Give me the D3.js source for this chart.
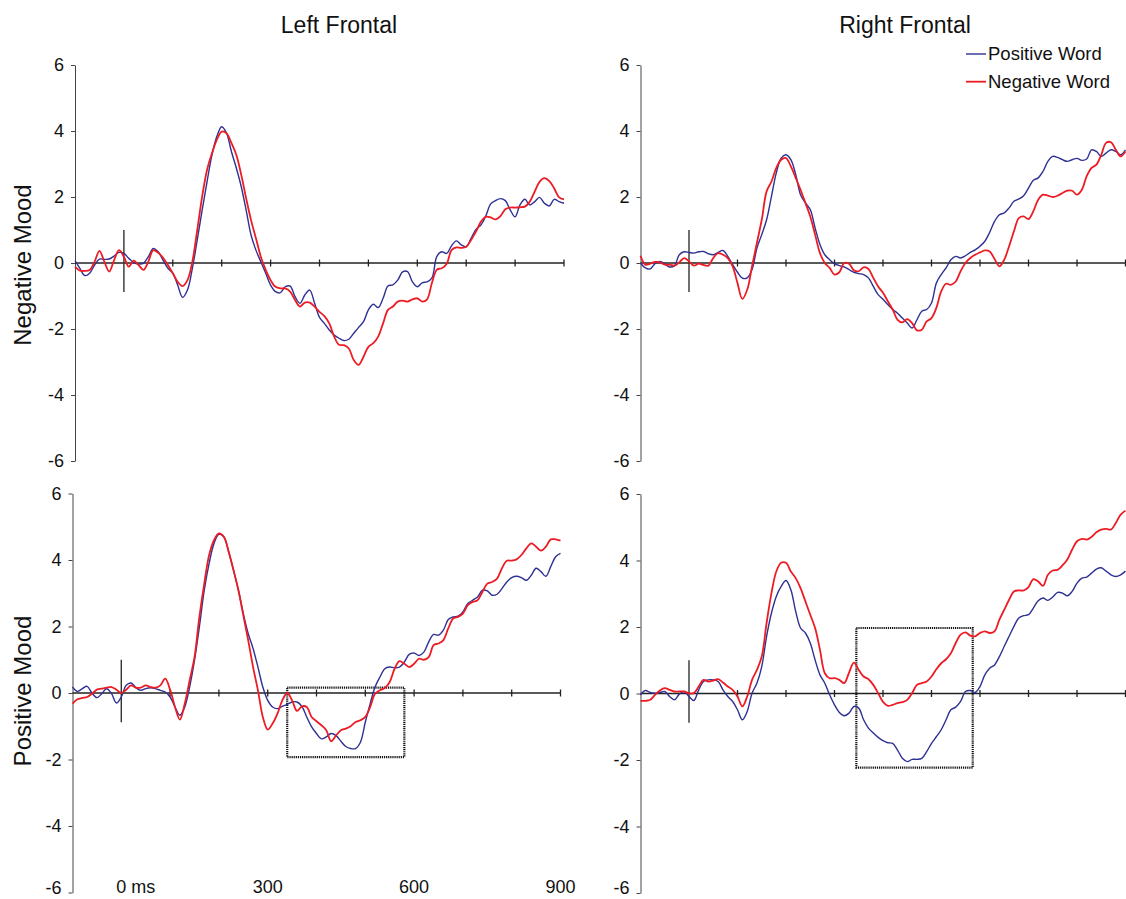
<!DOCTYPE html>
<html>
<head>
<meta charset="utf-8">
<script src="https://cdn.jsdelivr.net/npm/d3@7"></script>
<style>
  body { margin: 0; background: #fff; }
  svg { display: block; }
</style>
</head>
<body>
<svg id="chart"></svg>
<script>
// sample times (ms)
const times = [-100,-90,-80,-70,-60,-50,-40,-30,-20,-10,
  0,10,20,30,40,50,60,70,80,90,100,110,120,130,140,150,160,170,180,190,
  200,210,220,230,240,250,260,270,280,290,300,310,320,330,340,350,360,370,380,390,
  400,410,420,430,440,450,460,470,480,490,500,510,520,530,540,550,560,570,580,590,
  600,610,620,630,640,650,660,670,680,690,700,710,720,730,740,750,760,770,780,790,
  800,810,820,830,840,850,860,870,880,890,900];

// Negative mood, left frontal
const negLeftPosWord = [0.07,-0.16,-0.38,-0.31,-0.06,0.12,0.11,0.12,0.21,0.32,
  0.29,0.14,0.01,-0.03,-0.01,0.19,0.44,0.34,0.09,-0.16,-0.31,-0.67,-1.04,-0.82,-0.16,0.70,1.60,2.46,3.27,3.83,
  4.13,3.93,3.37,2.87,2.31,1.60,0.85,0.39,0.04,-0.31,-0.67,-0.87,-0.90,-0.72,-0.70,-1.02,-1.22,-0.97,-0.82,-1.22,
  -1.65,-1.83,-2.03,-2.18,-2.28,-2.35,-2.31,-2.13,-1.95,-1.78,-1.42,-1.25,-1.35,-1.07,-0.70,-0.66,-0.52,-0.27,-0.26,-0.57,
  -0.72,-0.60,-0.57,-0.45,0.20,0.34,0.29,0.52,0.67,0.55,0.49,0.75,1.02,1.15,1.42,1.79,1.89,1.95,1.89,1.61,
  1.40,1.76,1.93,1.76,1.86,1.99,1.81,1.73,1.93,1.86,1.81];
const negLeftNegWord = [-0.11,-0.23,-0.24,-0.21,0.04,0.37,0.04,-0.26,0.09,0.39,
  0.19,-0.11,0.07,-0.06,-0.21,0.04,0.39,0.31,0.16,-0.06,-0.31,-0.57,-0.70,-0.52,0.04,1.00,2.01,2.82,3.32,3.73,
  3.98,3.93,3.63,3.27,2.67,1.96,1.30,0.75,0.19,-0.21,-0.52,-0.72,-0.77,-0.77,-0.87,-1.12,-1.32,-1.20,-1.20,-1.32,
  -1.48,-1.61,-1.83,-2.23,-2.48,-2.49,-2.59,-2.94,-3.09,-2.84,-2.54,-2.43,-2.23,-1.83,-1.42,-1.32,-1.17,-1.14,-1.17,-1.10,
  -1.07,-1.17,-1.10,-0.60,-0.20,-0.16,-0.03,0.39,0.47,0.46,0.49,0.70,0.95,1.25,1.40,1.38,1.32,1.42,1.63,1.68,
  1.68,1.69,1.71,1.86,2.16,2.46,2.57,2.48,2.26,1.99,1.93];

// Negative mood, right frontal
const negRightPosWord = [0,-0.15,-0.18,-0.02,0.05,-0.02,-0.12,-0.08,0.25,0.34,
  0.32,0.30,0.34,0.35,0.28,0.25,0.32,0.38,0.20,-0.05,-0.28,-0.46,-0.45,-0.20,0.45,0.86,1.31,2.02,2.73,3.18,
  3.28,3.13,2.68,2.07,1.82,1.62,1.06,0.56,0.25,0.10,-0.02,-0.08,-0.12,-0.20,-0.28,-0.32,-0.35,-0.45,-0.71,-0.96,
  -1.10,-1.26,-1.41,-1.52,-1.67,-1.82,-1.97,-1.72,-1.46,-1.41,-1.21,-0.61,-0.35,-0.15,0.10,0.20,0.15,0.22,0.32,0.40,
  0.51,0.66,0.93,1.26,1.46,1.52,1.67,1.87,1.94,2.04,2.27,2.51,2.58,2.78,3.08,3.23,3.20,3.13,3.08,3.13,
  3.17,3.11,3.15,3.43,3.38,3.23,3.33,3.43,3.38,3.28,3.43];
const negRightNegWord = [0.22,-0.05,-0.02,0.03,0.02,-0.05,-0.05,-0.08,0.02,0.15,
  0.05,-0.08,-0.02,-0.06,-0.08,0.15,0.30,0.25,0.15,-0.10,-0.61,-1.09,-0.81,-0.10,0.61,1.31,2.17,2.47,2.88,3.13,
  3.18,2.93,2.58,2.22,1.82,1.41,0.86,0.30,0,-0.15,-0.35,-0.28,0,-0.02,-0.22,-0.25,-0.13,-0.18,-0.45,-0.71,
  -0.90,-1.16,-1.41,-1.72,-1.80,-1.70,-1.82,-2.04,-2.02,-1.77,-1.67,-1.36,-0.86,-0.63,-0.66,-0.56,-0.25,0,0.15,0.25,
  0.32,0.38,0.35,0.12,-0.10,0.10,0.51,0.96,1.36,1.41,1.33,1.57,1.92,2.07,2.04,2.00,2.04,2.12,2.19,2.19,
  2.07,2.22,2.63,2.88,2.98,3.28,3.64,3.66,3.43,3.23,3.38];

// Positive mood, left frontal
const posLeftPosWord = [0.18,0.05,0.13,0.20,0,-0.14,-0.02,0.13,-0.02,-0.30,
  -0.12,0.23,0.30,0.16,0.08,0.13,0.16,0.13,0.08,0.03,-0.12,-0.42,-0.67,-0.42,0.18,0.98,1.99,3.09,3.90,4.50,
  4.77,4.70,4.25,3.69,3.09,2.39,1.79,1.34,0.78,0.18,-0.22,-0.42,-0.47,-0.40,-0.34,-0.27,-0.27,-0.40,-0.72,-1.02,
  -1.22,-1.38,-1.32,-1.22,-1.28,-1.45,-1.61,-1.67,-1.67,-1.48,-0.88,-0.32,0.18,0.48,0.73,0.78,0.76,0.78,0.93,1.16,
  1.20,1.13,1.23,1.54,1.76,1.74,1.89,2.21,2.29,2.31,2.44,2.69,2.79,2.89,3.09,3.07,2.94,2.97,3.14,3.34,
  3.47,3.51,3.47,3.39,3.54,3.75,3.65,3.51,3.80,4.10,4.20];
const posLeftNegWord = [-0.32,-0.19,-0.15,-0.12,-0.02,0.10,0.13,0.16,0.18,0.10,
  0,0.10,0.23,0.16,0.16,0.23,0.18,0.16,0.23,0.43,0.10,-0.42,-0.80,-0.32,0.38,1.08,2.29,3.29,4.15,4.60,
  4.80,4.70,4.25,3.69,3.09,2.34,1.59,0.78,0.08,-0.72,-1.10,-0.92,-0.62,-0.22,0,-0.22,-0.54,-0.40,-0.42,-0.72,
  -0.85,-0.97,-1.12,-1.45,-1.28,-1.12,-1.07,-1.00,-0.87,-0.82,-0.72,-0.42,-0.02,0.08,0.15,0.33,0.73,0.96,0.88,0.78,
  0.88,1.03,1.00,1.08,1.44,1.49,1.59,1.94,2.24,2.29,2.39,2.64,2.74,2.79,3.04,3.29,3.34,3.44,3.75,3.98,
  3.98,4.02,4.15,4.35,4.50,4.40,4.28,4.40,4.62,4.62,4.58];

// Positive mood, right frontal
const posRightPosWord = [-0.04,0.09,0.03,0.01,0.03,0.06,-0.09,-0.19,-0.02,0.06,
  -0.09,-0.21,0.11,0.36,0.41,0.41,0.36,0.11,-0.09,-0.24,-0.49,-0.79,-0.54,0.01,0.31,0.81,1.72,2.42,2.92,3.22,
  3.40,3.12,2.47,1.97,1.82,1.52,1.01,0.56,0.31,-0.04,-0.34,-0.57,-0.67,-0.59,-0.39,-0.44,-0.79,-1.04,-1.19,-1.32,
  -1.42,-1.48,-1.50,-1.70,-1.95,-2.05,-1.98,-1.98,-1.95,-1.75,-1.50,-1.30,-1.09,-0.79,-0.49,-0.41,-0.24,0.06,0.09,0.03,
  0.21,0.56,0.76,0.86,1.11,1.42,1.72,2.02,2.27,2.34,2.37,2.57,2.79,2.87,2.80,2.90,3.04,3.02,2.94,3.07,
  3.32,3.47,3.50,3.62,3.74,3.78,3.68,3.57,3.52,3.57,3.68];
const posRightNegWord = [-0.22,-0.22,-0.19,-0.04,0.09,0.16,0.11,0.06,0.06,0.06,
  0.01,0.01,0.21,0.41,0.36,0.39,0.43,0.33,0.21,0.11,-0.09,-0.39,-0.09,0.41,0.71,1.11,2.12,3.02,3.67,3.93,
  3.93,3.67,3.47,3.17,2.77,2.37,1.97,1.32,0.61,0.46,0.46,0.41,0.31,0.63,0.93,0.71,0.51,0.43,0.26,0.01,
  -0.25,-0.37,-0.34,-0.29,-0.26,-0.19,0.01,0.26,0.31,0.36,0.51,0.73,0.91,1.03,1.21,1.52,1.77,1.84,1.74,1.72,
  1.82,1.87,1.82,1.87,2.22,2.52,2.82,3.07,3.10,3.10,3.20,3.44,3.37,3.24,3.57,3.70,3.72,3.85,4.03,4.33,
  4.58,4.65,4.63,4.71,4.85,4.93,4.95,4.93,5.13,5.38,5.50];

const yTicks = [-6, -4, -2, 0, 2, 4, 6];
const xTicks = [100, 200, 300, 400, 500, 600, 700, 800, 900];
const timeLabelValues = [0, 300, 600, 900];
const timeLabelText = ["0 ms", "300", "600", "900"];
const seriesNames = ["Positive Word", "Negative Word"];
const columnTitles = ["Left Frontal", "Right Frontal"];
const rowTitles = ["Negative Mood", "Positive Mood"];
// highlighted windows: [startMs, endMs, lowValue, highValue]
const boxLeft = [340, 580, -1.93, 0.16];
const boxRight = [345, 585, -2.23, 1.97];

const FONT = '"Liberation Sans", Arial, Helvetica, sans-serif';
const BLUE = "#2e3192", RED = "#ed1c24";
const width = 1126, height = 899;

const svg = d3.select("#chart").attr("width", width).attr("height", height)
  .style("font-family", FONT);

const panels = [
  { xr: [75, 564], yr: [461, 65], pos: negLeftPosWord, neg: negLeftNegWord, box: null, labels: false, bottom: false },
  { xr: [640.5, 1125.5], yr: [461, 65], pos: negRightPosWord, neg: negRightNegWord, box: null, labels: false, bottom: false },
  { xr: [72.5, 560.5], yr: [892.5, 493.5], pos: posLeftPosWord, neg: posLeftNegWord, box: boxLeft, labels: true, bottom: true },
  { xr: [640.5, 1125.5], yr: [893, 494], pos: posRightPosWord, neg: posRightNegWord, box: boxRight, labels: false, bottom: true }
];

panels.forEach(drawPanel);

function drawPanel(p) {
  const x = d3.scaleLinear().domain([-100, 900]).range(p.xr);
  const y = d3.scaleLinear().domain([-6, 6]).range(p.yr);
  const g = svg.append("g");

  // y axis
  const ya = g.append("g")
    .attr("transform", `translate(${p.xr[0]},0)`)
    .call(d3.axisLeft(y).tickValues(yTicks).tickFormat(d3.format("d"))
      .tickSize(4).tickSizeOuter(0).tickPadding(7));
  ya.attr("font-family", FONT).attr("font-size", 18);
  ya.select(".domain").attr("stroke", "#444");
  ya.selectAll(".tick line").attr("stroke", "#444");
  ya.selectAll(".tick text").attr("fill", "#111")
    .text(d => d < 0 ? "-" + Math.abs(d) : d)
    // keep the lowest label of the bottom row inside the page
    .attr("dy", d => (p.bottom && d === -6) ? "0.05em" : "0.32em");

  // zero line with crossing ticks
  g.append("line")
    .attr("x1", p.xr[0]).attr("x2", x(900))
    .attr("y1", y(0)).attr("y2", y(0))
    .attr("stroke", "#222").attr("stroke-width", 1.4);
  g.selectAll(".xtick").data(xTicks).enter().append("line")
    .attr("x1", d => x(d)).attr("x2", d => x(d))
    .attr("y1", y(0) - 3.5).attr("y2", y(0) + 3.5)
    .attr("stroke", "#222").attr("stroke-width", 1.3);

  // stimulus onset marker
  g.append("line")
    .attr("x1", x(0)).attr("x2", x(0))
    .attr("y1", y(1.0)).attr("y2", y(-0.88))
    .attr("stroke", "#333").attr("stroke-width", 1.4);

  // time labels under bottom-left panel
  if (p.labels) {
    g.selectAll(".tl").data(timeLabelValues).enter().append("text")
      .attr("x", (d, i) => i === 0 ? x(d) - 5 : x(d))
      .attr("y", y(-6))
      .attr("dy", "0.05em")
      .attr("text-anchor", (d, i) => i === 0 ? "start" : "middle")
      .attr("font-size", 18)
      .attr("fill", "#111")
      .text((d, i) => timeLabelText[i]);
  }

  // highlighted window
  if (p.box) {
    g.append("rect")
      .attr("x", x(p.box[0])).attr("y", y(p.box[3]))
      .attr("width", x(p.box[1]) - x(p.box[0]))
      .attr("height", y(p.box[2]) - y(p.box[3]))
      .attr("fill", "none").attr("stroke", "#111")
      .attr("stroke-width", 2.2).attr("stroke-dasharray", "1.2,0.9");
  }

  const line = d3.line()
    .x((d, i) => x(times[i]))
    .y(d => y(d))
    .curve(d3.curveCatmullRom);

  g.append("path").datum(p.pos)
    .attr("d", line).attr("fill", "none")
    .attr("stroke", BLUE).attr("stroke-width", 1.4);
  g.append("path").datum(p.neg)
    .attr("d", line).attr("fill", "none")
    .attr("stroke", RED).attr("stroke-width", 1.8);
}

// column titles
svg.selectAll(".ct").data(columnTitles).enter().append("text")
  .attr("x", (d, i) => [339, 905][i])
  .attr("y", 33)
  .attr("text-anchor", "middle")
  .attr("font-size", 23)
  .attr("fill", "#111")
  .text(d => d);

// row titles
svg.selectAll(".rt").data(rowTitles).enter().append("text")
  .attr("transform", (d, i) => `translate(31,${[265, 691][i]}) rotate(-90)`)
  .attr("text-anchor", "middle")
  .attr("font-size", 24)
  .attr("fill", "#111")
  .text(d => d);

// legend
const legend = svg.append("g").attr("transform", "translate(966,54)");
const lg = legend.selectAll("g").data(seriesNames).enter().append("g")
  .attr("transform", (d, i) => `translate(0,${i * 27.7})`);
lg.append("line")
  .attr("x1", 0).attr("x2", 20).attr("y1", 0).attr("y2", 0)
  .attr("stroke", (d, i) => i === 0 ? BLUE : RED)
  .attr("stroke-width", (d, i) => i === 0 ? 1.4 : 1.8);
lg.append("text")
  .attr("x", 22).attr("y", 0).attr("dy", "0.35em")
  .attr("font-size", 18.5)
  .attr("fill", "#111")
  .text(d => d);
</script>
</body>
</html>
